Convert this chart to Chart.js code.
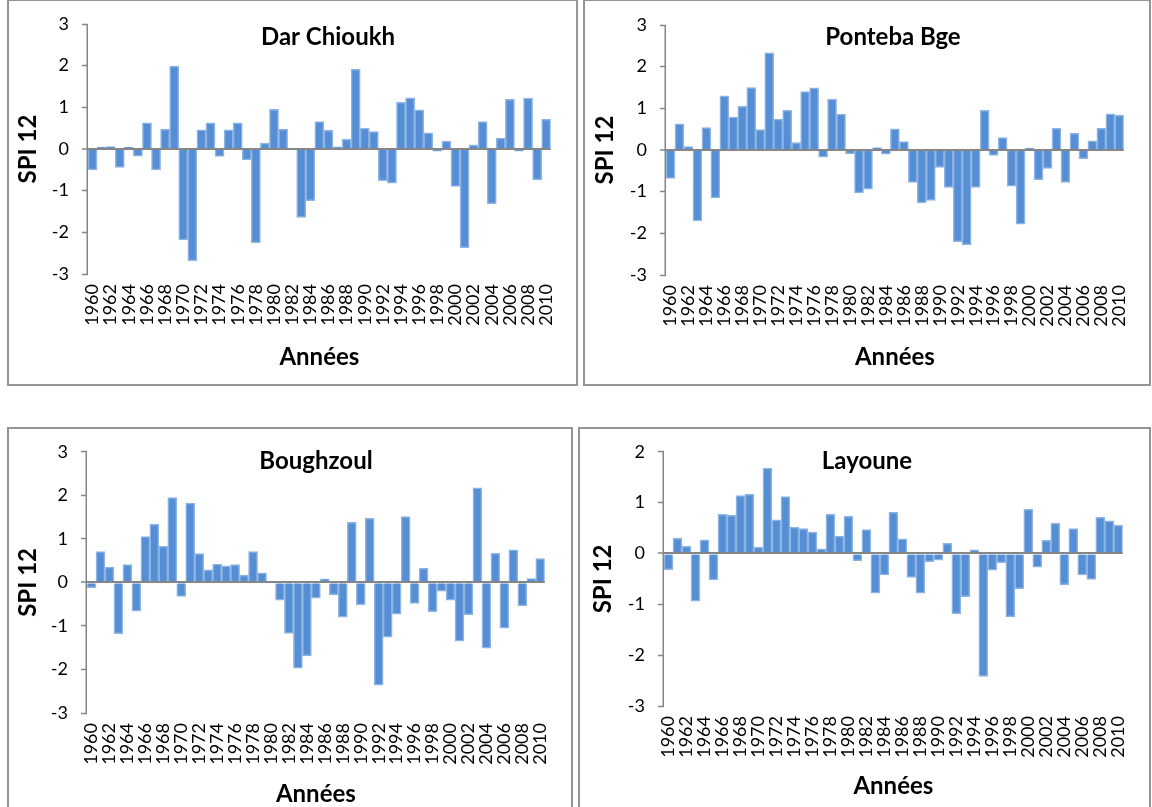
<!DOCTYPE html>
<html lang="fr">
<head>
    <meta charset="UTF-8">
    <title>SPI 12</title>
    <script src="https://cdn.jsdelivr.net/npm/chart.js"></script>
    <style>
        body { margin: 0; background: #fff; width: 1152px; height: 807px; overflow: hidden; position: relative; }
        canvas { position: absolute; }
        .frame { position: absolute; border: 2px solid #959595; box-sizing: border-box; pointer-events: none; }
    </style>
</head>
<body>
    <canvas id="c1" width="570" height="386" style="left:8px;top:0px"></canvas>
    <canvas id="c2" width="567" height="386" style="left:584px;top:0px"></canvas>
    <canvas id="c3" width="564" height="385" style="left:8px;top:428px"></canvas>
    <canvas id="c4" width="572" height="385" style="left:578px;top:428px"></canvas>

    <div class="frame" style="left:7px;top:-1px;width:571px;height:387px"></div>
    <div class="frame" style="left:583px;top:-1px;width:568px;height:387px"></div>
    <div class="frame" style="left:7px;top:427px;width:566px;height:400px"></div>
    <div class="frame" style="left:578px;top:427px;width:573px;height:400px"></div>

    <script>
        // years on the x axis
        const years = [1960, 1961, 1962, 1963, 1964, 1965, 1966, 1967, 1968, 1969,
            1970, 1971, 1972, 1973, 1974, 1975, 1976, 1977, 1978, 1979,
            1980, 1981, 1982, 1983, 1984, 1985, 1986, 1987, 1988, 1989,
            1990, 1991, 1992, 1993, 1994, 1995, 1996, 1997, 1998, 1999,
            2000, 2001, 2002, 2003, 2004, 2005, 2006, 2007, 2008, 2009, 2010];

        // SPI 12 per station
        const darChioukh = [-0.50, 0.04, 0.06, -0.44, 0.04, -0.17, 0.63, -0.50, 0.48, 1.99,
            -2.18, -2.68, 0.46, 0.63, -0.18, 0.46, 0.63, -0.26, -2.25, 0.14,
            0.95, 0.48, 0.01, -1.64, -1.24, 0.66, 0.45, 0.05, 0.24, 1.92,
            0.50, 0.42, -0.76, -0.82, 1.12, 1.23, 0.94, 0.39, -0.05, 0.19,
            -0.90, -2.37, 0.10, 0.66, -1.31, 0.26, 1.19, -0.05, 1.22, -0.74, 0.71];

        const pontebaBge = [-0.68, 0.63, 0.08, -1.70, 0.54, -1.15, 1.30, 0.79, 1.05, 1.50,
            0.49, 2.33, 0.74, 0.95, 0.18, 1.40, 1.49, -0.17, 1.22, 0.86,
            -0.09, -1.03, -0.94, 0.06, -0.10, 0.51, 0.20, -0.78, -1.27, -1.21,
            -0.42, -0.90, -2.20, -2.28, -0.90, 0.95, -0.13, 0.30, -0.87, -1.78,
            0.04, -0.71, -0.44, 0.52, -0.78, 0.40, -0.21, 0.22, 0.52, 0.87, 0.84];

        const boughzoul = [-0.12, 0.71, 0.35, -1.18, 0.41, -0.66, 1.05, 1.34, 0.83, 1.95,
            -0.32, 1.82, 0.66, 0.29, 0.42, 0.38, 0.41, 0.17, 0.71, 0.22,
            0.00, -0.41, -1.17, -1.97, -1.69, -0.36, 0.08, -0.29, -0.80, 1.38,
            -0.52, 1.47, -2.36, -1.26, -0.73, 1.51, -0.48, 0.33, -0.67, -0.20,
            -0.41, -1.35, -0.74, 2.17, -1.51, 0.67, -1.05, 0.75, -0.54, 0.09, 0.55];

        const layoune = [-0.32, 0.30, 0.14, -0.94, 0.27, -0.52, 0.77, 0.75, 1.14, 1.17,
            0.12, 1.68, 0.66, 1.12, 0.52, 0.49, 0.42, 0.09, 0.77, 0.34,
            0.73, -0.14, 0.47, -0.78, -0.42, 0.81, 0.29, -0.47, -0.78, -0.16,
            -0.13, 0.20, -1.19, -0.85, 0.07, -2.42, -0.33, -0.18, -1.25, -0.69,
            0.87, -0.27, 0.26, 0.60, -0.62, 0.49, -0.42, -0.51, 0.71, 0.64, 0.56];

        const FONT = 'Lato';
        const AXIS = '#868686';

        // station name inside the plot + the vertical axis line (Excel look)
        const stationTitle = {
            id: 'stationTitle',
            afterDraw(chart, args, opts) {
                const ctx = chart.ctx;
                const y = chart.scales.y;
                ctx.save();
                ctx.strokeStyle = AXIS;
                ctx.lineWidth = 1.5;
                ctx.beginPath();
                ctx.moveTo(y.right - 0.75, y.top);
                ctx.lineTo(y.right - 0.75, y.bottom + 0.75);
                ctx.stroke();

                ctx.font = 'bold 24px ' + FONT;
                ctx.fillStyle = '#000';
                ctx.textAlign = 'center';
                ctx.textBaseline = 'middle';
                ctx.fillText(opts.text, opts.x, opts.y);
                ctx.restore();
            }
        };

        function makeChart(id, name, values, yMin, yMax, lay) {
            const ctx = document.getElementById(id).getContext('2d');
            return new Chart(ctx, {
                type: 'bar',
                data: {
                    labels: years,
                    datasets: [{
                        data: values,
                        backgroundColor: '#558ED5',
                        borderColor: '#8DB4E2',
                        borderWidth: 1.5,
                        categoryPercentage: 1,
                        barPercentage: 1
                    }]
                },
                options: {
                    responsive: false,
                    animation: false,
                    layout: { padding: { left: 0, right: lay.right, top: lay.top, bottom: 0 } },
                    plugins: {
                        legend: { display: false },
                        tooltip: { enabled: false },
                        stationTitle: { text: name, x: lay.titleX, y: lay.titleY }
                    },
                    scales: {
                        x: {
                            grid: { display: false, drawTicks: false },
                            border: { display: false },
                            ticks: {
                                autoSkip: false,
                                minRotation: 90,
                                maxRotation: 90,
                                padding: 10,
                                color: '#000',
                                font: { family: FONT, size: 18 },
                                callback: (v, i) => (i % 2 === 0 ? String(years[i]) : '')
                            },
                            title: {
                                display: true,
                                text: 'Années',
                                color: '#000',
                                font: { family: FONT, size: 24, weight: 'bold' },
                                padding: { top: 0, bottom: lay.xTitlePad }
                            },
                            afterFit: (s) => { s.height = lay.xHeight; }
                        },
                        y: {
                            min: yMin,
                            max: yMax,
                            ticks: {
                                stepSize: 1,
                                padding: 13,
                                color: '#000',
                                font: { family: FONT, size: 18 }
                            },
                            grid: {
                                z: 1,
                                color: (c) => (c.tick && c.tick.value === 0 ? AXIS : 'rgba(0,0,0,0)'),
                                lineWidth: (c) => (c.tick && c.tick.value === 0 ? 2 : 1),
                                tickColor: AXIS,
                                tickWidth: 1.5,
                                tickLength: 6
                            },
                            border: { display: false },
                            title: {
                                display: true,
                                text: 'SPI 12',
                                color: '#000',
                                font: { family: FONT, size: 24, weight: 'bold' },
                                padding: { top: lay.yTitlePad, bottom: 0 }
                            },
                            afterFit: (s) => { s.width = lay.yWidth; }
                        }
                    }
                },
                plugins: [stationTitle]
            });
        }

        makeChart('c1', 'Dar Chioukh', darChioukh, -3, 3,
            { yWidth: 80, right: 20, top: 24, xHeight: 112, xTitlePad: 14, yTitlePad: 6, titleX: 320, titleY: 37 });
        makeChart('c2', 'Ponteba Bge', pontebaBge, -3, 3,
            { yWidth: 82, right: 8, top: 25, xHeight: 111, xTitlePad: 14, yTitlePad: 7, titleX: 309, titleY: 37 });
        makeChart('c3', 'Boughzoul', boughzoul, -3, 3,
            { yWidth: 79, right: 14, top: 19, xHeight: 100, xTitlePad: 4, yTitlePad: 6, titleX: 308, titleY: 33 });
        makeChart('c4', 'Layoune', layoune, -3, 2,
            { yWidth: 86, right: 16, top: 21, xHeight: 107, xTitlePad: 12, yTitlePad: 11, titleX: 289, titleY: 33 });
    </script>
</body>
</html>
